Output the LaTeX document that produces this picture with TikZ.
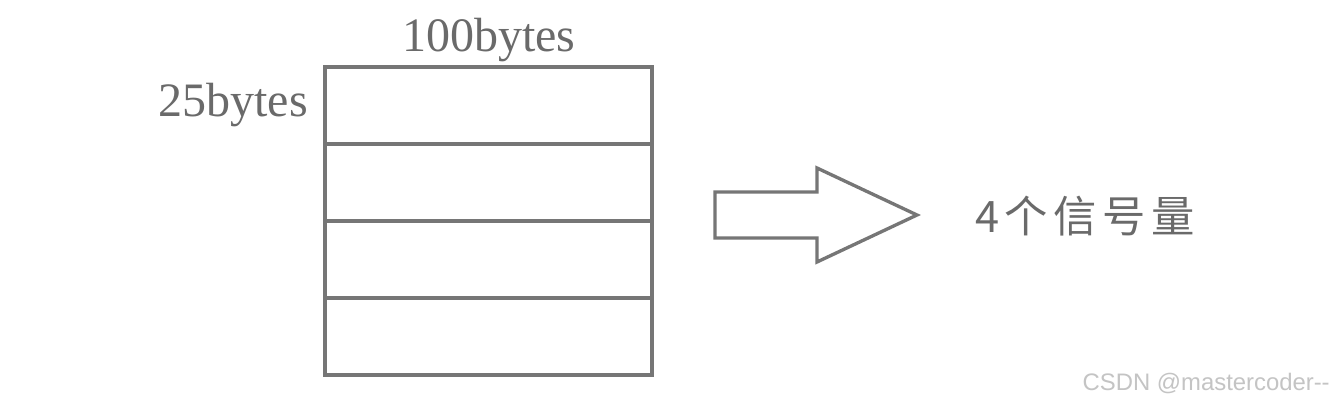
\documentclass[tikz,border=0pt]{standalone}
\usepackage{fontspec}
\newfontfamily\cjk[LetterSpace=13]{Noto Sans CJK SC}
\newfontfamily\wmfont{Liberation Sans}
\newfontfamily\lblfont{Liberation Serif}
\usepackage{tikz}
\usetikzlibrary{
	arrows.meta,
	positioning,
	calc
}
\usepackage{xcolor}
\definecolor{linegray}{HTML}{767676}
\definecolor{textgray}{HTML}{6A6A6A}
\definecolor{markgray}{HTML}{C4C4C4}

\begin{document}
\begin{tikzpicture}[>=Stealth,x=0.75pt,y=-0.75pt,
		row/.style={draw=linegray,line width=2.5pt,minimum width=245.25pt,minimum height=57.75pt,inner sep=0pt,outer sep=0pt},
		lbl/.style={text=textgray,inner sep=0pt,anchor=base,font=\lblfont\fontsize{36}{40}\selectfont}]
			
			\useasboundingbox[fill=white] (0,0) rectangle (1336,403);
			
			\node[row] (r1) at (488.5,105.5){};
			\node[row] (r2) at (488.5,182.5){};
			\node[row] (r3) at (488.5,259.5){};
			\node[row] (r4) at (488.5,336.5){};
			
			\node[lbl] (width) at (489,52){100bytes};
			\node[lbl,anchor=base east] (height) at (308,117){25bytes};
			
			\draw[linegray,line width=2.5pt,line join=miter]
				(715,192)--(817,192)--(817,168)--(917,215)--(817,262)--(817,238)--(715,238)--cycle;
			
			\node[lbl,anchor=base west,font=\cjk\fontsize{32.5}{40}\selectfont] (sem) at (975,232){4个信号量};
			
			\node[text=markgray,inner sep=0pt,anchor=base east,font=\wmfont\fontsize{17.9}{20}\selectfont] (mark) at (1330,390){CSDN @mastercoder--};
			
		\end{tikzpicture}
\end{document}
